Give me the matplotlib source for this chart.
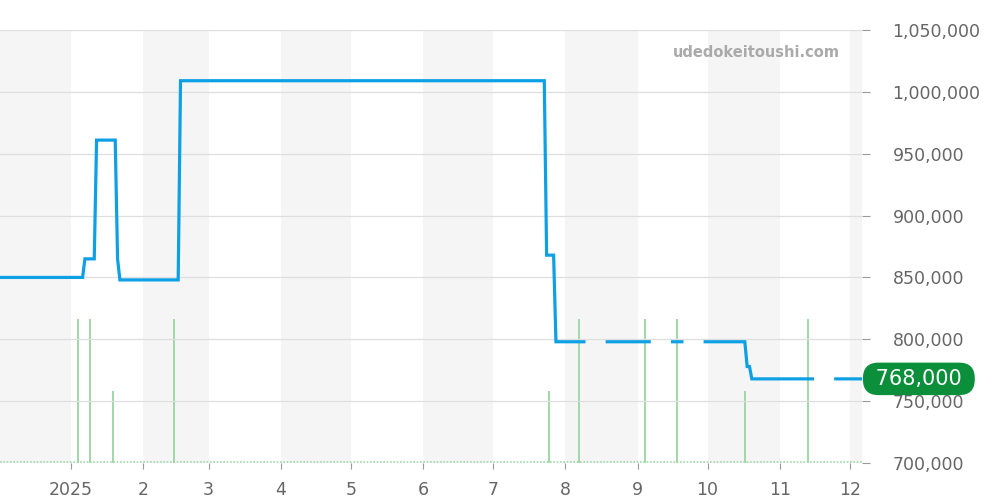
import numpy as np
import matplotlib
matplotlib.use("Agg")
import matplotlib.pyplot as plt
import matplotlib.transforms as mtrans

plt.rcParams['font.family'] = ['DejaVu Sans']

# price history (NaN = no data)
price_dates = ['2024-12-02', '2025-01-06', '2025-01-07', '2025-01-11', '2025-01-12',
               '2025-01-20', '2025-01-21', '2025-01-22', '2025-02-16', '2025-02-17',
               '2025-07-23', '2025-07-24', '2025-07-27', '2025-07-28', '2025-08-09',
               '2025-08-14', '2025-08-19', '2025-09-06', '2025-09-11', '2025-09-16',
               '2025-09-20', '2025-09-25', '2025-09-30', '2025-10-17', '2025-10-18',
               '2025-10-19', '2025-10-20', '2025-11-15', '2025-11-20', '2025-11-25',
               '2025-12-06']
prices = [850000, 850000, 865000, 865000, 961000,
          961000, 865000, 848000, 848000, 1009000,
          1009000, 868000, 868000, 798000, 798000,
          np.nan, 798000, 798000, np.nan, 798000,
          798000, np.nan, 798000, 798000, 778000,
          778000, 768000, 768000, np.nan, 768000,
          768000]

# listing counts
count_dates = ['2025-01-04', '2025-01-09', '2025-01-19', '2025-02-14', '2025-07-25',
               '2025-08-07', '2025-09-04', '2025-09-18', '2025-10-17', '2025-11-13']
counts = [2, 2, 1, 2, 1, 2, 2, 2, 1, 2]

month_ticks = ['2025-01-01', '2025-02-01', '2025-03-01', '2025-04-01', '2025-05-01',
               '2025-06-01', '2025-07-01', '2025-08-01', '2025-09-01', '2025-10-01',
               '2025-11-01', '2025-12-01']
month_labels = ['2025', '2', '3', '4', '5', '6', '7', '8', '9', '10', '11', '12']
shade_months = ['2024-12-01', '2025-02-01', '2025-04-01', '2025-06-01',
                '2025-08-01', '2025-10-01', '2025-12-01']

y_ticks = [700000, 750000, 800000, 850000, 900000, 950000, 1000000, 1050000]
current_price = 768000

pd_ = np.array(price_dates, dtype='datetime64[D]')
cd_ = np.array(count_dates, dtype='datetime64[D]')
xmin = np.datetime64('2024-12-01T14:00')
xmax = np.datetime64('2025-12-06T06:00')

fig = plt.figure(figsize=(10, 5), dpi=100)
rect = [0.0, 0.074, 0.862, 0.866]

# back axes: shading + count bars
axv = fig.add_axes(rect)
for m in shade_months:
    s = np.datetime64(m, 'D')
    e = (np.datetime64(m, 'M') + 1).astype('datetime64[D]')
    axv.axvspan(s, e, color='#f5f5f5', lw=0, zorder=0)
axv.vlines(cd_, 0, counts, color='#9fd8a6', lw=1.4, zorder=2)
axv.axhline(0.02, color='#9fd8a6', lw=1.2, ls=(0, (1, 1)), zorder=2)
axv.set_ylim(0, 6)
axv.set_xlim(xmin, xmax)
axv.axis('off')

# front axes: price line
ax = fig.add_axes(rect, sharex=axv)
ax.patch.set_visible(False)
ax.plot(pd_, prices, color='#0ea0e4', lw=2.3, solid_joinstyle='miter', zorder=3)
ax.set_ylim(700000, 1050000)
ax.set_xlim(xmin, xmax)
for s in ax.spines.values():
    s.set_visible(False)
ax.set_yticks(y_ticks)
ax.set_yticklabels([f'{v:,}' for v in y_ticks])
ax.yaxis.tick_right()
ax.grid(axis='y', color='#dedede', lw=0.9)
ax.tick_params(axis='y', length=6, color='#999999', pad=16, labelsize=12.5,
               labelcolor='#666666')
ax.set_xticks(np.array(month_ticks, dtype='datetime64[D]'))
ax.set_xticklabels(month_labels)
ax.tick_params(axis='x', length=4, color='#999999', pad=9, labelsize=12.5,
               labelcolor='#666666')

# current price label
tr = mtrans.blended_transform_factory(ax.transAxes, ax.transData)
ax.text(1.0083, current_price, f' {current_price:,} ', transform=tr, ha='left', va='center',
        fontsize=15, color='white', zorder=5, clip_on=False,
        bbox=dict(boxstyle='round,pad=0.3,rounding_size=0.75', fc='#0b8f3a', ec='none'))

fig.text(0.84, 0.895, 'udedokeitoushi.com', ha='right', va='center', fontsize=10.5,
         fontweight='bold', color='#aaaaaa')

fig.savefig('out.png', dpi=100)
